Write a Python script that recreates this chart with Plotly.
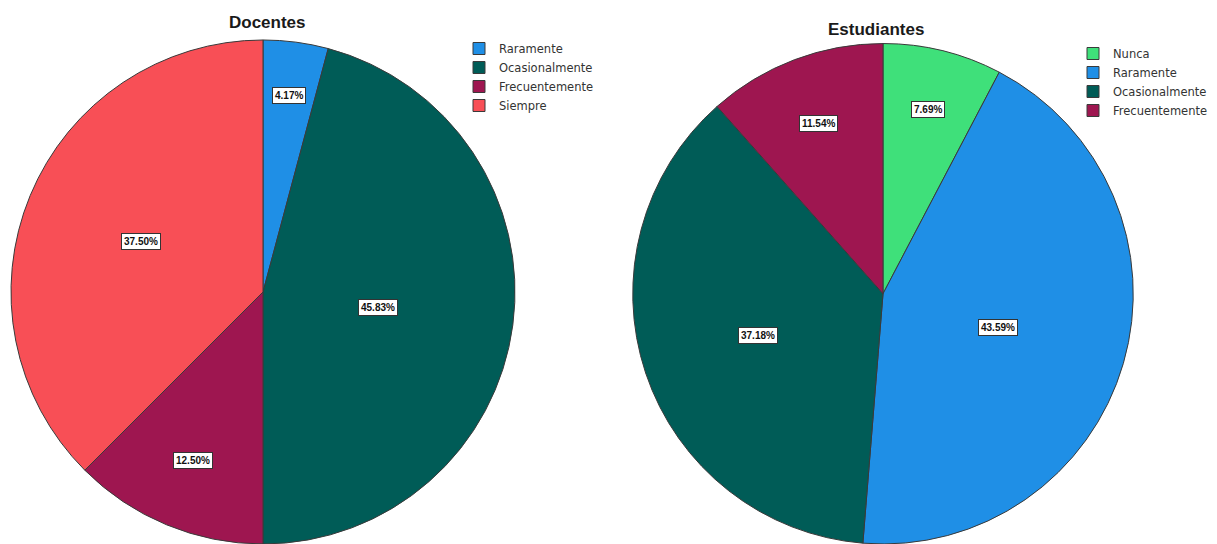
import math
import plotly.graph_objects as go

# Docentes responses (counts)
docentes_labels = ["Raramente", "Ocasionalmente", "Frecuentemente", "Siempre"]
docentes_values = [1, 11, 3, 9]

# Estudiantes responses (counts)
estudiantes_labels = ["Nunca", "Raramente", "Ocasionalmente", "Frecuentemente"]
estudiantes_values = [6, 34, 29, 9]

COLORS = {
    "Nunca": "#3fe07a",
    "Raramente": "#1f8fe6",
    "Ocasionalmente": "#005c57",
    "Frecuentemente": "#9e1650",
    "Siempre": "#f84f56",
}

W, H = 1217, 544
DOM_DOC = dict(x=[10 / W, 516 / W], y=[0.0, 0.9265])
DOM_EST = dict(x=[630 / W, 1136 / W], y=[0.0, 0.92])

fig = go.Figure()


def add_pie(labels, values, domain, legend_id, group):
    fig.add_trace(go.Pie(
        labels=labels,
        values=values,
        domain=domain,
        sort=False,
        direction="clockwise",
        rotation=0,
        textinfo="none",
        hoverinfo="label+percent",
        marker=dict(colors=[COLORS[l] for l in labels],
                    line=dict(color="#3a3a3a", width=1)),
        legend=legend_id,
        legendgroup=group,
    ))


def slice_labels(values, domain):
    """White boxed percentage labels placed inside each slice."""
    total = sum(values)
    cx = (domain["x"][0] + domain["x"][1]) / 2
    cy = (domain["y"][0] + domain["y"][1]) / 2
    r = min((domain["x"][1] - domain["x"][0]) * W,
            (domain["y"][1] - domain["y"][0]) * H) / 2
    start = 0.0
    for v in values:
        frac = v / total
        half = math.pi * frac
        mid = start + half
        f = max(0.45, 0.82 - 0.25 * half)
        dx = f * r * math.sin(mid)
        dy = f * r * math.cos(mid)
        fig.add_annotation(
            x=cx + dx / W, y=cy + dy / H, xref="paper", yref="paper",
            xanchor="center", yanchor="middle",
            text="<b>{:.2f}%</b>".format(100 * frac),
            showarrow=False,
            font=dict(family="Liberation Sans Narrow, Arial Narrow, Liberation Sans",
                      size=10, color="#111111"),
            bgcolor="white", bordercolor="#333333", borderwidth=1, borderpad=2,
        )
        start += 2 * half


add_pie(docentes_labels, docentes_values, DOM_DOC, "legend", "doc")
add_pie(estudiantes_labels, estudiantes_values, DOM_EST, "legend2", "est")
slice_labels(docentes_values, DOM_DOC)
slice_labels(estudiantes_values, DOM_EST)

title_font = dict(family="Liberation Sans, Arial", size=17, color="#1a1a1a")
fig.add_annotation(x=267 / W, y=1 - 23 / H, xref="paper", yref="paper",
                   xanchor="center", yanchor="middle",
                   text="<b>Docentes</b>", showarrow=False, font=title_font)
fig.add_annotation(x=876 / W, y=1 - 29 / H, xref="paper", yref="paper",
                   xanchor="center", yanchor="middle",
                   text="<b>Estudiantes</b>", showarrow=False, font=title_font)

legend_font = dict(family="DejaVu Sans, Tahoma", size=11.5, color="#333333")
fig.update_layout(
    width=W, height=H,
    margin=dict(l=0, r=0, t=0, b=0),
    paper_bgcolor="white",
    plot_bgcolor="white",
    legend=dict(x=459 / W, y=1 - 34 / H, xanchor="left", yanchor="top",
                font=legend_font, itemwidth=30, tracegroupgap=0,
                bgcolor="rgba(0,0,0,0)"),
    legend2=dict(x=1073 / W, y=1 - 39 / H, xanchor="left", yanchor="top",
                 font=legend_font, itemwidth=30, tracegroupgap=0,
                 bgcolor="rgba(0,0,0,0)"),
)

fig.write_html("out.html")
